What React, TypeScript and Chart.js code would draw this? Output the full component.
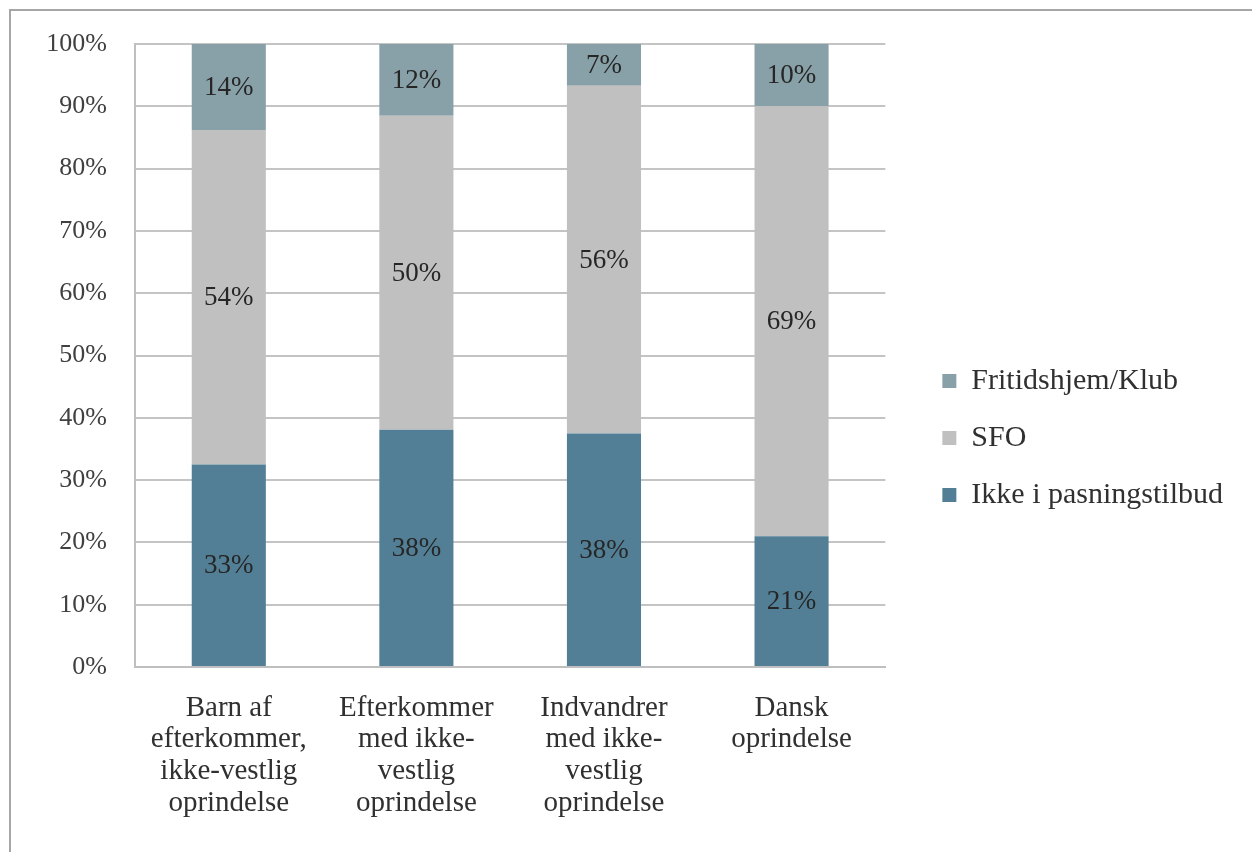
import React, { useEffect, useRef } from "react";
import { Chart, registerables } from "chart.js";

Chart.register(...registerables);

const categories: string[][] = [
  ["Barn af", "efterkommer,", "ikke-vestlig", "oprindelse"],
  ["Efterkommer", "med ikke-", "vestlig", "oprindelse"],
  ["Indvandrer", "med ikke-", "vestlig", "oprindelse"],
  ["Dansk", "oprindelse"],
];

const seriesNames = ["Ikke i pasningstilbud", "SFO", "Fritidshjem/Klub"];
const ikkeValues = [32.5, 38.1, 37.5, 21.0];
const sfoValues = [53.7, 50.4, 55.8, 69.0];
const fritidValues = [13.8, 11.5, 6.7, 10.0];
const seriesColors = ["#527F95", "#C0C0C0", "#88A1A8"];
const yTicks = [0, 10, 20, 30, 40, 50, 60, 70, 80, 90, 100];

const FONT = "'Liberation Serif', 'Times New Roman', serif";

const dataLabelPlugin = {
  id: "segLabels",
  afterDatasetsDraw(chart: any) {
    const ctx = chart.ctx;
    ctx.save();
    ctx.font = `27px ${FONT}`;
    ctx.fillStyle = "#262626";
    ctx.textAlign = "center";
    ctx.textBaseline = "middle";
    chart.data.datasets.forEach((ds: any, i: number) => {
      const meta = chart.getDatasetMeta(i);
      meta.data.forEach((el: any, j: number) => {
        const v = ds.data[j];
        const props = el.getProps(["x", "y", "base"], true);
        const cy = (props.y + props.base) / 2 + 1;
        ctx.fillText(Math.round(v) + "%", props.x, cy);
      });
    });
    ctx.restore();
  },
};

export default function App() {
  const ref = useRef<HTMLCanvasElement>(null);
  useEffect(() => {
    if (!ref.current) return;
    const chart = new Chart(ref.current, {
      type: "bar",
      data: {
        labels: categories,
        datasets: [
          { label: seriesNames[0], data: ikkeValues, backgroundColor: seriesColors[0] },
          { label: seriesNames[1], data: sfoValues, backgroundColor: seriesColors[1] },
          { label: seriesNames[2], data: fritidValues, backgroundColor: seriesColors[2] },
        ],
      },
      options: {
        responsive: false,
        animation: false,
        devicePixelRatio: 1,
        datasets: { bar: { barPercentage: 1, categoryPercentage: 0.395 } } as any,
        layout: { padding: { left: 20, right: 19, top: 44, bottom: 20 } },
        plugins: {
          legend: {
            position: "right",
            align: "center",
            reverse: true,
            maxWidth: 600,
            labels: {
              boxWidth: 14,
              boxHeight: 14,
              padding: 27,
              color: "#303030",
              font: { family: FONT, size: 30 },
            },
          } as any,
          tooltip: { enabled: false },
        },
        scales: {
          x: {
            stacked: true,
            grid: { display: false, drawTicks: false },
            border: { display: true, color: "#BFBFBF", width: 2 },
            ticks: {
              color: "#303030",
              padding: 25,
              maxRotation: 0,
              autoSkip: false,
              font: { family: FONT, size: 29, lineHeight: 1.1 },
            },
            afterFit: (s: any) => {
              s.height = 165;
            },
          },
          y: {
            stacked: true,
            min: 0,
            max: 100,
            afterBuildTicks: (s: any) => {
              s.ticks = yTicks.map((v) => ({ value: v }));
            },
            grid: { display: true, color: "#C4C4C4", lineWidth: 2, drawTicks: false },
            border: { display: true, color: "#BFBFBF", width: 2 },
            ticks: {
              color: "#404040",
              padding: 28,
              font: { family: FONT, size: 26 },
              callback: (v: any) => v + "%",
            },
            afterFit: (s: any) => {
              s.width = 115;
            },
          },
          spacer: {
            type: "linear",
            position: "right",
            display: true,
            grid: { display: false, drawTicks: false },
            border: { display: false },
            ticks: { display: false },
            afterFit: (s: any) => {
              s.width = 30;
            },
          } as any,
        },
      },
      plugins: [dataLabelPlugin],
    });
    return () => chart.destroy();
  }, []);

  return (
    <div
      style={{
        position: "fixed",
        left: 0,
        top: 0,
        width: 1252,
        height: 852,
        overflow: "hidden",
        background: "#fff",
      }}
    >
      <div
        style={{
          position: "absolute",
          left: 9,
          top: 9,
          width: 1300,
          height: 900,
          border: "2px solid #A6A6A6",
          boxSizing: "border-box",
        }}
      />
      <canvas
        ref={ref}
        width={1252}
        height={852}
        style={{ position: "absolute", left: 0, top: 0, width: 1252, height: 852 }}
      />
    </div>
  );
}
